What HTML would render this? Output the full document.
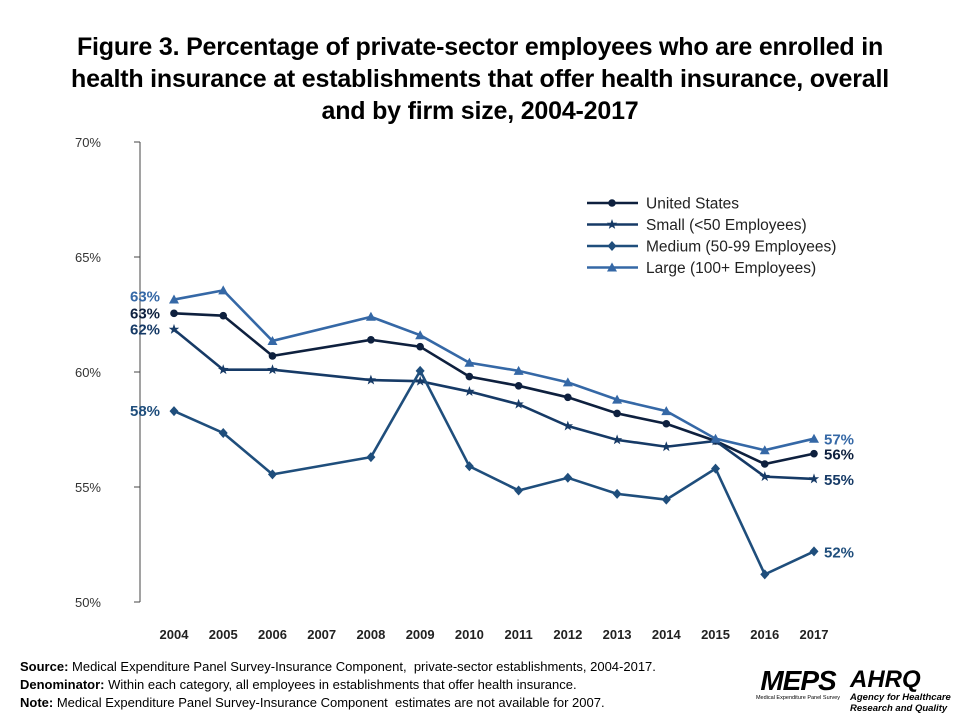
<!DOCTYPE html>
<html><head><meta charset="utf-8"><style>
body{margin:0;background:#fff;font-family:"Liberation Sans",sans-serif;}
#wrap{position:relative;width:960px;height:720px;overflow:hidden;}
.title{position:absolute;left:0;top:31px;width:960px;text-align:center;font-weight:bold;font-size:25px;line-height:32px;color:#000;letter-spacing:-0.2px;}
.notes{position:absolute;left:20px;top:658px;font-size:13px;line-height:18px;color:#000;}
</style></head><body>
<div id="wrap">
<div class="title">Figure 3. Percentage of private-sector employees who are enrolled in<br>health insurance at establishments that offer health insurance, overall<br>and by firm size, 2004-2017</div>
<svg id="chart" width="960" height="720" style="position:absolute;left:0;top:0"></svg>
<div class="notes">
<div><b>Source:</b> Medical Expenditure Panel Survey-Insurance Component,&nbsp; private-sector establishments, 2004-2017.</div>
<div><b>Denominator:</b> Within each category, all employees in establishments that offer health insurance.</div>
<div><b>Note:</b> Medical Expenditure Panel Survey-Insurance Component&nbsp; estimates are not available for 2007.</div>
</div>
<div style="position:absolute;left:752px;top:668px;width:92px;text-align:center;white-space:nowrap;">
<div style="font:italic bold 28px 'Liberation Sans',sans-serif;letter-spacing:-1px;line-height:26px;">MEPS</div>
<div style="font-size:5.5px;line-height:8px;">Medical Expenditure Panel Survey</div></div>
<div style="position:absolute;left:850px;top:668px;width:105px;white-space:nowrap;">
<div style="font:italic bold 24px 'Liberation Sans',sans-serif;line-height:24px;">AHRQ</div>
<div style="font:italic bold 9.5px 'Liberation Sans',sans-serif;line-height:11px;">Agency for Healthcare<br>Research and Quality</div></div>
</div>
<script>
const years=["2004","2005","2006","2007","2008","2009","2010","2011","2012","2013","2014","2015","2016","2017"];
const yTicks=[50,55,60,65,70];
const usVals=[62.55,62.45,60.7,null,61.4,61.1,59.8,59.4,58.9,58.2,57.75,57.0,56.0,56.45];
const smallVals=[61.85,60.1,60.1,null,59.65,59.6,59.15,58.6,57.65,57.05,56.75,57.0,55.45,55.35];
const mediumVals=[58.3,57.35,55.55,null,56.3,60.05,55.9,54.85,55.4,54.7,54.45,55.8,51.2,52.2];
const largeVals=[63.15,63.55,61.35,null,62.4,61.6,60.4,60.05,59.55,58.8,58.3,57.1,56.6,57.1];
const seriesNames=["United States","Small (<50 Employees)","Medium (50-99 Employees)","Large (100+ Employees)"];
const startLabels=["63%","62%","58%","63%"];
const endLabels=["56%","55%","52%","57%"];
const svg=document.getElementById('chart');const NS='http://www.w3.org/2000/svg';
function mk(t,a){const e=document.createElementNS(NS,t);for(const k in a)e.setAttribute(k,a[k]);svg.appendChild(e);return e;}
const x=i=>174+i*(814-174)/13;
const y=v=>602-(v-50)*23;
const axis=mk('line',{x1:140,y1:142,x2:140,y2:602,stroke:'#444','stroke-width':1});


yTicks.forEach(t=>{
 const tk=mk('line',{x1:134,x2:140,y1:y(t),y2:y(t),stroke:'#444'});
 
 
 const tl=mk('text',{x:101,y:y(t)+5,'text-anchor':'end','font-size':13,fill:'#333'});tl.textContent=t+'%';
 
 
});
years.forEach((yr,i)=>{
 const tl=mk('text',{x:x(i),y:639,'text-anchor':'middle','font-size':13,'font-weight':'bold',fill:'#222'});tl.textContent=yr;
 
 
});
const colors=['#0e203e','#163a66','#1f4e7c','#3568a6'];
const data=[usVals,smallVals,mediumVals,largeVals];
const shapes=['circle','star','diamond','triangle'];
function marker(s,cx,cy,c){
 let e;
 if(s==='circle')e=mk('circle',{cx,cy,r:3.8,fill:c});
 else if(s==='diamond')e=mk('polygon',{points:`${cx},${cy-5} ${cx+4.5},${cy} ${cx},${cy+5} ${cx-4.5},${cy}`,fill:c});
 else if(s==='triangle')e=mk('polygon',{points:`${cx},${cy-5} ${cx+5},${cy+4} ${cx-5},${cy+4}`,fill:c});
 else{let p=[];for(let k=0;k<10;k++){const r=k%2?2.2:5.5,a=-Math.PI/2+k*Math.PI/5;p.push((cx+r*Math.cos(a)).toFixed(1)+','+(cy+r*Math.sin(a)).toFixed(1));}e=mk('polygon',{points:p.join(' '),fill:c});}
 return e;
}
data.forEach((vals,si)=>{
 const pts=[];vals.forEach((v,i)=>{if(v!==null)pts.push([x(i),y(v)]);});
 const pl=mk('polyline',{points:pts.map(p=>p.join(',')).join(' '),fill:'none',stroke:colors[si],'stroke-width':2.6});
 
 
 pts.forEach(p=>{const m=marker(shapes[si],p[0],p[1],colors[si]);
  
  });
});
const startY=[y(usVals[0])+5,y(smallVals[0])+5,y(mediumVals[0])+5,y(largeVals[0])+2];
startLabels.forEach((t,si)=>{
 const tl=mk('text',{x:145,y:startY[si],'text-anchor':'middle','font-size':15,'font-weight':'bold',fill:colors[si]});tl.textContent=t;
 
 
});
const endY=[y(usVals[13])+6,y(smallVals[13])+6,y(mediumVals[13])+6,y(largeVals[13])+6];
endLabels.forEach((t,si)=>{
 const tl=mk('text',{x:824,y:endY[si],'font-size':15,'font-weight':'bold',fill:colors[si]});tl.textContent=t;
 
 
});
seriesNames.forEach((n,si)=>{
 const ly=203+si*21.5;
 const ln=mk('line',{x1:587,x2:638,y1:ly,y2:ly,stroke:colors[si],'stroke-width':2.6});
 
 
 const m=marker(shapes[si],612,ly,colors[si]);
 
 
 const tl=mk('text',{x:646,y:ly+5.5,'font-size':15.5,fill:'#222'});tl.textContent=n;
 
 
});
</script>
</body></html>
